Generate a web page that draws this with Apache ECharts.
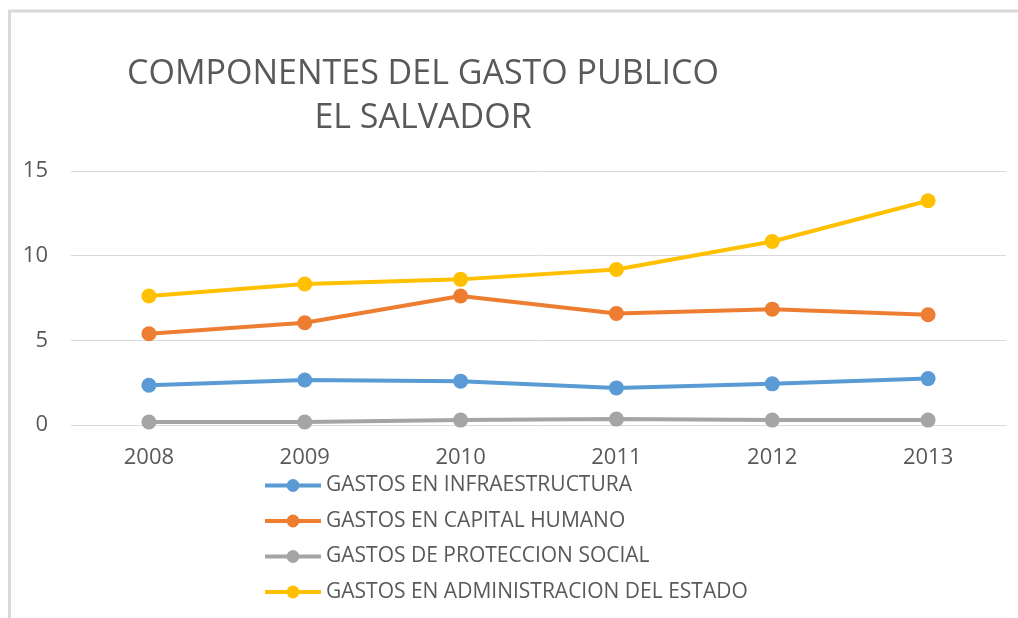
<!DOCTYPE html>
<html>
<head>
<meta charset="utf-8">
<script src="https://cdn.jsdelivr.net/npm/echarts@6/dist/echarts.min.js"></script>
<style>
  html, body { margin: 0; padding: 0; background: #fff; }
  #main { width: 1018px; height: 618px; }
</style>
</head>
<body>
<div id="main"></div>
<script>
// years on the x axis
const years = ['2008', '2009', '2010', '2011', '2012', '2013'];

// series values
const infraestructura = [2.35, 2.66, 2.59, 2.19, 2.43, 2.74];
const capitalHumano = [5.39, 6.04, 7.62, 6.59, 6.84, 6.51];
const proteccionSocial = [0.18, 0.18, 0.29, 0.35, 0.29, 0.29];
const administracion = [7.62, 8.33, 8.6, 9.18, 10.84, 13.24];

const seriesNames = [
    'GASTOS EN INFRAESTRUCTURA',
    'GASTOS EN CAPITAL HUMANO',
    'GASTOS DE PROTECCION SOCIAL',
    'GASTOS EN ADMINISTRACION DEL ESTADO'
];
const colors = ['#5B9BD5', '#ED7D31', '#A5A5A5', '#FFC000'];
const font = "'Open Sans', sans-serif";

document.addEventListener('DOMContentLoaded', function() {
    const chart = echarts.init(document.getElementById('main'));

    const allData = [infraestructura, capitalHumano, proteccionSocial, administracion];
    const series = allData.map((values, i) => ({
        name: seriesNames[i],
        type: 'line',
        data: values,
        symbol: 'circle',
        symbolSize: 15,
        color: colors[i],
        lineStyle: { width: 4 },
        z: 3
    }));

    const option = {
        animation: false,
        color: colors,
        graphic: [{
            type: 'rect',
            shape: { x: 9.5, y: 11, width: 1200, height: 800 },
            style: { fill: 'none', stroke: '#d9d9d9', lineWidth: 3 },
            silent: true
        }],
        title: {
            text: 'COMPONENTES DEL GASTO PUBLICO\nEL SALVADOR',
            left: 418,
            top: 47,
            textAlign: 'center',
            textStyle: {
                fontFamily: font,
                fontSize: 34,
                fontWeight: 'normal',
                color: '#595959',
                lineHeight: 44
            }
        },
        legend: {
            orient: 'vertical',
            left: 258,
            top: 470,
            itemWidth: 56,
            itemHeight: 16,
            itemGap: 14.5,
            lineStyle: { width: 4 },
            textStyle: { fontFamily: font, fontSize: 21, color: '#595959' }
        },
        grid: { left: 71, right: 12, top: 171, bottom: 193 },
        xAxis: {
            type: 'category',
            data: years,
            boundaryGap: true,
            axisLine: { lineStyle: { color: '#d9d9d9', width: 1 } },
            axisTick: { show: false },
            axisLabel: { fontFamily: font, fontSize: 22, color: '#595959', margin: 22 }
        },
        yAxis: {
            type: 'value',
            min: 0,
            max: 15,
            interval: 5,
            axisLine: { show: false },
            axisTick: { show: false },
            splitLine: { lineStyle: { color: '#d9d9d9', width: 1 } },
            axisLabel: { fontFamily: font, fontSize: 22, color: '#595959', margin: 23 }
        },
        series: series
    };

    chart.setOption(option);
});
</script>
</body>
</html>
